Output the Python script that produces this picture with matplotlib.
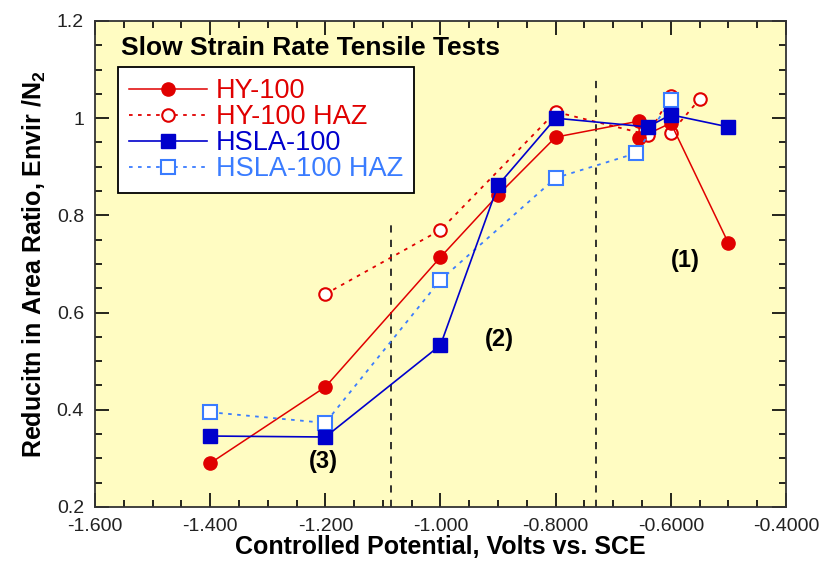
import matplotlib.pyplot as plt
from matplotlib.ticker import MultipleLocator, FixedLocator, FixedFormatter

plt.rcParams['font.family'] = ['Liberation Sans', 'DejaVu Sans']
plt.rcParams['mathtext.fontset'] = 'custom'
plt.rcParams['mathtext.rm'] = 'Liberation Sans:bold'
plt.rcParams['mathtext.bf'] = 'Liberation Sans:bold'

# data
hy_x = [-1.4, -1.2, -1.0, -0.9, -0.8, -0.655, -0.655, -0.6, -0.5]
hy_y = [0.29, 0.447, 0.714, 0.842, 0.961, 0.994, 0.959, 0.99, 0.743]

hyhaz_x = [-1.2, -1.0, -0.8, -0.64, -0.6, -0.6, -0.55]
hyhaz_y = [0.638, 0.77, 1.013, 0.966, 1.045, 0.97, 1.039]

hsla_x = [-1.4, -1.2, -1.0, -0.9, -0.8, -0.64, -0.6, -0.5]
hsla_y = [0.346, 0.344, 0.533, 0.862, 1.0, 0.982, 1.007, 0.982]

hslahaz_x = [-1.4, -1.2, -1.0, -0.8, -0.66, -0.6]
hslahaz_y = [0.395, 0.373, 0.667, 0.877, 0.928, 1.037]

xticks = [-1.6, -1.4, -1.2, -1.0, -0.8, -0.6, -0.4]
xticklabels = ["-1.600", "-1.400", "-1.200", "-1.000", "-0.8000", "-0.6000", "-0.4000"]
yticks = [0.2, 0.4, 0.6, 0.8, 1.0, 1.2]
yticklabels = ["0.2", "0.4", "0.6", "0.8", "1", "1.2"]

red = '#e00000'
blue = '#0000cc'
lblue = '#3a7cff'

fig = plt.figure(figsize=(8.34, 5.64), dpi=100)
ax = fig.add_axes([0.1139, 0.1011, 0.8285, 0.8617])
ax.set_facecolor('#fffcc2')

# region boundaries
ax.plot([-1.086, -1.086], [0.2, 0.786], color='#222222', ls=(0, (4, 4)), lw=1.3)
ax.plot([-0.730, -0.730], [0.2, 1.079], color='#222222', ls=(0, (4, 4)), lw=1.3)

ax.plot(hyhaz_x, hyhaz_y, color=red, ls=(0, (2, 3)), lw=1.3, marker='o', ms=9,
        mfc='white', mec=red, mew=1.5, label='HY-100 HAZ')
ax.plot(hy_x, hy_y, color=red, ls='-', lw=1.1, marker='o', ms=9.5,
        mfc=red, mec=red, label='HY-100')
ax.plot(hslahaz_x, hslahaz_y, color=lblue, ls=(0, (2, 3)), lw=1.3, marker='s', ms=9.5,
        mfc='white', mec=lblue, mew=1.5, label='HSLA-100 HAZ')
ax.plot(hsla_x, hsla_y, color=blue, ls='-', lw=1.2, marker='s', ms=10,
        mfc=blue, mec=blue, label='HSLA-100')

ax.set_xlim(-1.6, -0.4)
ax.set_ylim(0.2, 1.2)
ax.xaxis.set_major_locator(FixedLocator(xticks))
ax.xaxis.set_major_formatter(FixedFormatter(xticklabels))
ax.yaxis.set_major_locator(FixedLocator(yticks))
ax.yaxis.set_major_formatter(FixedFormatter(yticklabels))
ax.xaxis.set_minor_locator(MultipleLocator(0.05))
ax.yaxis.set_minor_locator(MultipleLocator(0.05))
ax.tick_params(which='both', direction='in', top=True, right=True, width=1.2,
               labelcolor='#222222', labelsize=14)
ax.tick_params(which='major', length=10)
ax.tick_params(which='minor', length=5)
ax.tick_params(axis='x', pad=8)
ax.tick_params(axis='y', pad=8)
for s in ax.spines.values():
    s.set_linewidth(1.3)
    s.set_color('#333333')

ax.set_xlabel('Controlled Potential, Volts vs. SCE', fontsize=18, fontweight='bold', labelpad=0)
ax.set_ylabel(r'Reducitn in Area Ratio, Envir /N$_\mathbf{2}$', fontsize=18,
              fontweight='bold', labelpad=6)

ax.text(-1.555, 1.144, 'Slow Strain Rate Tensile Tests', fontsize=19, fontweight='bold',
        va='center', ha='left')
ax.text(-0.574, 0.708, '(1)', fontsize=17, fontweight='bold', ha='center', va='center')
ax.text(-0.897, 0.544, '(2)', fontsize=17, fontweight='bold', ha='center', va='center')
ax.text(-1.204, 0.293, '(3)', fontsize=17, fontweight='bold', ha='center', va='center')

h, l = ax.get_legend_handles_labels()
order = [1, 0, 3, 2]
leg = ax.legend([h[i] for i in order], [l[i] for i in order], loc='upper left',
                bbox_to_anchor=(0.033, 0.905), borderaxespad=0, fontsize=19.5,
                frameon=True, fancybox=False, edgecolor='black', framealpha=1,
                handlelength=2.9, handletextpad=0.33, borderpad=0.4, labelspacing=0.0)
leg.get_frame().set_linewidth(1.3)
for t, c in zip(leg.get_texts(), [red, red, blue, lblue]):
    t.set_color(c)

fig.savefig('out.png', dpi=100)
